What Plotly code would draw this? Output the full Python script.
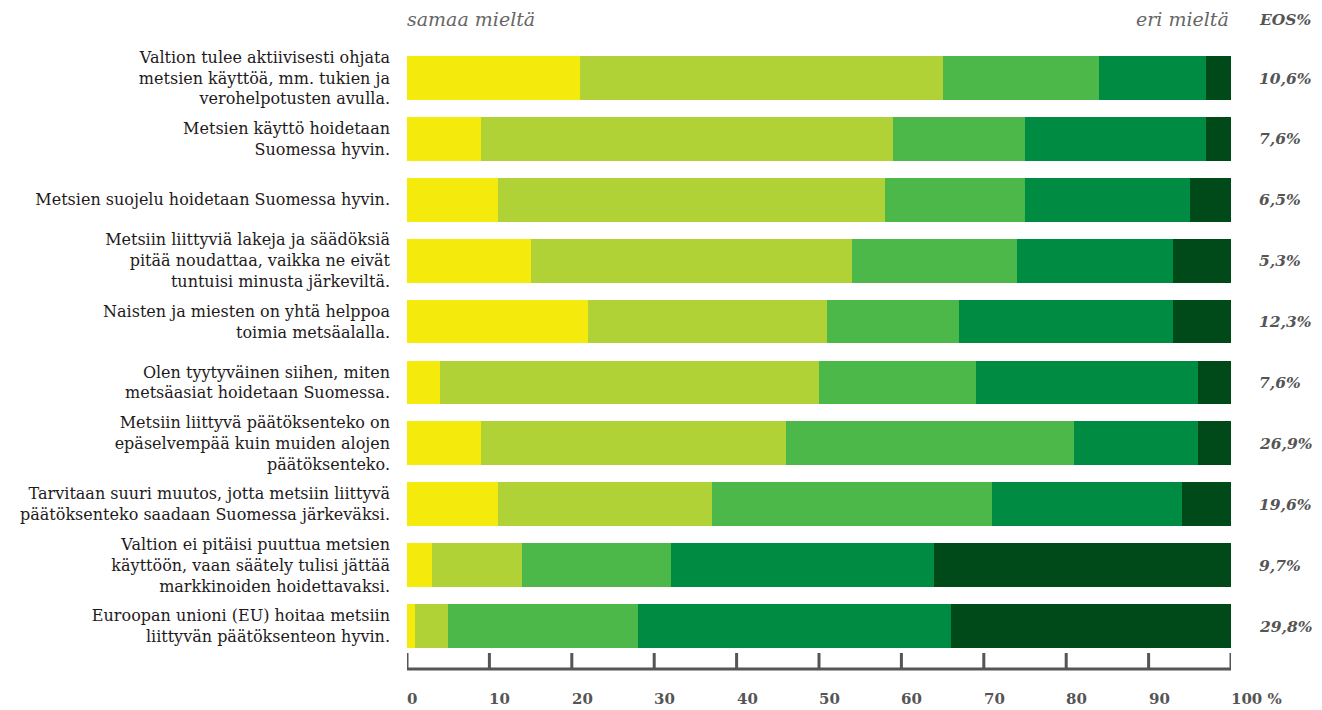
import plotly.graph_objects as go

categories = [
    "Valtion tulee aktiivisesti ohjata<br>metsien käyttöä, mm. tukien ja<br>verohelpotusten avulla.",
    "Metsien käyttö hoidetaan<br>Suomessa hyvin.",
    "Metsien suojelu hoidetaan Suomessa hyvin.",
    "Metsiin liittyviä lakeja ja säädöksiä<br>pitää noudattaa, vaikka ne eivät<br>tuntuisi minusta järkeviltä.",
    "Naisten ja miesten on yhtä helppoa<br>toimia metsäalalla.",
    "Olen tyytyväinen siihen, miten<br>metsäasiat hoidetaan Suomessa.",
    "Metsiin liittyvä päätöksenteko on<br>epäselvempää kuin muiden alojen<br>päätöksenteko.",
    "Tarvitaan suuri muutos, jotta metsiin liittyvä<br>päätöksenteko saadaan Suomessa järkeväksi.",
    "Valtion ei pitäisi puuttua metsien<br>käyttöön, vaan säätely tulisi jättää<br>markkinoiden hoidettavaksi.",
    "Euroopan unioni (EU) hoitaa metsiin<br>liittyvän päätöksenteon hyvin.",
]

s1 = [21, 9, 11, 15, 22, 4, 9, 11, 3, 1]
s2 = [44, 50, 47, 39, 29, 46, 37, 26, 11, 4]
s3 = [19, 16, 17, 20, 16, 19, 35, 34, 18, 23]
s4 = [13, 22, 20, 19, 26, 27, 15, 23, 32, 38]
s5 = [3, 3, 5, 7, 7, 4, 4, 6, 36, 34]

eos_labels = ["10,6%", "7,6%", "6,5%", "5,3%", "12,3%", "7,6%", "26,9%", "19,6%", "9,7%", "29,8%"]

tick_values = [0, 10, 20, 30, 40, 50, 60, 70, 80, 90, 100]
tick_labels = ["0", "10", "20", "30", "40", "50", "60", "70", "80", "90", "100 %"]

series = [s1, s2, s3, s4, s5]
colors = ["#F4EA0B", "#B0D236", "#4DB84A", "#008B42", "#004A1A"]

# page body adds an 8px offset; figure coordinates below compensate
W, H = 1314, 702
top, bottom = 32, 661  # plot area in figure pixels
left, right = 399, 1223

fig = go.Figure()
for vals, col in zip(series, colors):
    fig.add_trace(go.Bar(
        y=categories, x=vals, orientation="h",
        marker=dict(color=col, line=dict(width=0)),
        width=0.72, hoverinfo="x+y", showlegend=False,
    ))

def py(pix):
    return (bottom - pix) / (bottom - top)

axis_col = "#555555"
shapes = [dict(type="line", xref="x", yref="paper", x0=0, x1=100, y0=py(661), y1=py(661),
               line=dict(color=axis_col, width=3), layer="above")]
for v in tick_values:
    shapes.append(dict(type="line", xref="x", yref="paper", x0=v, x1=v,
                       y0=py(662), y1=py(645), line=dict(color=axis_col, width=3), layer="above"))

annotations = []
for v, t in zip(tick_values, tick_labels):
    annotations.append(dict(
        x=v, xref="x", y=py(691), yref="paper", text=t, showarrow=False,
        xanchor="left", yanchor="middle", xshift=-2,
        font=dict(family="DejaVu Serif", size=15, color="#555555", weight="bold"),
    ))
for cat, t in zip(categories, eos_labels):
    annotations.append(dict(
        x=1.0, xref="paper", xshift=26, y=cat, yref="y", text="<b><i>%s</i></b>" % t,
        showarrow=False, xanchor="left", yanchor="middle",
        font=dict(family="DejaVu Serif", size=15.5, color="#555555"),
    ))
annotations += [
    dict(x=0, xref="x", y=py(11), yref="paper", yanchor="middle", xanchor="left",
         text="<i>samaa mieltä</i>", showarrow=False, xshift=-2,
         font=dict(family="DejaVu Serif", size=19, color="#666666")),
    dict(x=100, xref="x", y=py(11), yref="paper", yanchor="middle", xanchor="right",
         text="<i>eri mieltä</i>", showarrow=False,
         font=dict(family="DejaVu Serif", size=19, color="#666666")),
    dict(x=1.0, xref="paper", xshift=26, y=py(11), yref="paper", yanchor="middle", xanchor="left",
         text="<b><i>EOS%</i></b>", showarrow=False,
         font=dict(family="DejaVu Serif", size=15.5, color="#555555")),
]

fig.update_layout(
    width=W, height=H,
    barmode="stack", bargap=0.28,
    plot_bgcolor="white", paper_bgcolor="white",
    margin=dict(l=left, r=W - right, t=top, b=H - bottom),
    xaxis=dict(range=[0, 100], showgrid=False, zeroline=False,
               showline=False, ticks="", showticklabels=False),
    yaxis=dict(categoryorder="array", categoryarray=categories,
               range=[9.706, -0.624], showgrid=False, zeroline=False,
               showline=False, ticks="", ticklabelstandoff=16,
               tickfont=dict(family="DejaVu Serif", size=16, color="#1E1A1B")),
    shapes=shapes,
    annotations=annotations,
)

fig.write_html("out.html")
